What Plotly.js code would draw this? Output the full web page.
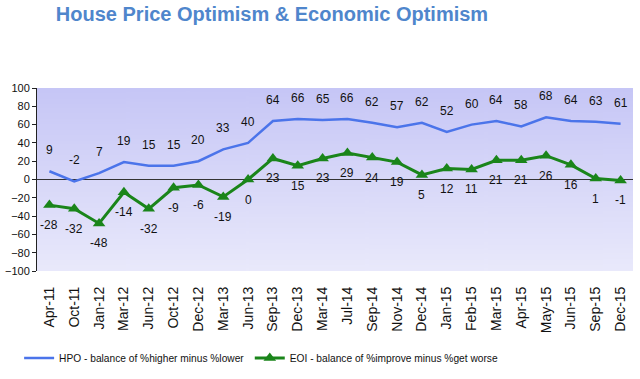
<!DOCTYPE html>
<html><head><meta charset="utf-8">
<script src="https://cdn.plot.ly/plotly-3.0.1.min.js"></script>
<style>html,body{margin:0;padding:0;background:#fff;}#chart{width:640px;height:379px;}</style>
</head><body><div id="chart"></div>
<script>
const categories = ["Apr-11","Oct-11","Jan-12","Mar-12","Jun-12","Oct-12","Dec-12","Mar-13","Jun-13","Sep-13","Dec-13","Mar-14","Jul-14","Sep-14","Nov-14","Dec-14","Jan-15","Feb-15","Mar-15","Apr-15","May-15","Jun-15","Sep-15","Dec-15"];
const hpo = [9,-2,7,19,15,15,20,33,40,64,66,65,66,62,57,62,52,60,64,58,68,64,63,61];
const eoi = [-28,-32,-48,-14,-32,-9,-6,-19,0,23,15,23,29,24,19,5,12,11,21,21,26,16,1,-1];
const yTicks = [-100,-80,-60,-40,-20,0,20,40,60,80,100];

// gradient background image
const cv = document.createElement('canvas');
cv.width = 10; cv.height = 200;
const ctx = cv.getContext('2d');
const g = ctx.createLinearGradient(0,0,0,200);
g.addColorStop(0,'#c6c6f6');
g.addColorStop(1,'#e9e9fb');
ctx.fillStyle = g; ctx.fillRect(0,0,10,200);
const bgUrl = cv.toDataURL();

const FONT = 'Liberation Sans, Arial, sans-serif';
const annotations = [];
categories.forEach((c,i)=>{
  annotations.push({x:c,y:hpo[i],xref:'x',yref:'y',text:String(hpo[i]),showarrow:false,yshift:21,font:{family:FONT,size:12,color:'#111'}});
  annotations.push({x:c,y:eoi[i],xref:'x',yref:'y',text:String(eoi[i]),showarrow:false,yshift:-20,font:{family:FONT,size:12,color:'#111'}});
});

const traces = [
  {x:categories,y:hpo,type:'scatter',mode:'lines',name:'HPO - balance of %higher minus %lower',legend:'legend',line:{color:'#4b74ea',width:2.5}},
  {x:categories,y:eoi,type:'scatter',mode:'lines+markers',name:'EOI - balance of %improve minus %get worse',legend:'legend2',line:{color:'#1a851a',width:3},marker:{symbol:'triangle-up',size:11,color:'#1a851a'}}
];

const legendBase = {orientation:'h',xanchor:'left',y:-0.475,yanchor:'middle',font:{family:FONT,size:10.2,color:'#111'},itemwidth:30,bgcolor:'rgba(0,0,0,0)'};

const layout = {
  width:640,height:379,
  margin:{l:37,r:7,t:88,b:108},
  paper_bgcolor:'#ffffff',
  plot_bgcolor:'rgba(0,0,0,0)',
  title:{text:'<b>House Price Optimism & Economic Optimism</b>',x:272/640,xanchor:'center',y:1-14/379,yanchor:'middle',font:{family:FONT,size:20,color:'#4f86cc'}},
  images:[{source:bgUrl,xref:'paper',yref:'paper',x:0,y:1,sizex:1,sizey:1,sizing:'stretch',layer:'below'}],
  xaxis:{type:'category',range:[-0.5,23.5],tickangle:-90,showgrid:false,showline:false,ticks:'outside',ticklen:9,tickcolor:'rgba(0,0,0,0)',zeroline:false,
    tickfont:{family:FONT,size:14,color:'#111'},fixedrange:true},
  yaxis:{range:[-100,100],tickvals:yTicks,showgrid:false,showline:true,linecolor:'#222',linewidth:1,ticks:'outside',ticklen:4,tickcolor:'#222',
    zeroline:true,zerolinecolor:'#333',zerolinewidth:1,
    tickfont:{family:FONT,size:11,color:'#111'}},
  showlegend:true,
  legend:Object.assign({}, legendBase, {x:-0.03}),
  legend2:Object.assign({}, legendBase, {x:0.357}),
  annotations:annotations
};
Plotly.newPlot('chart',traces,layout,{displayModeBar:false,staticPlot:true});
</script></body></html>
